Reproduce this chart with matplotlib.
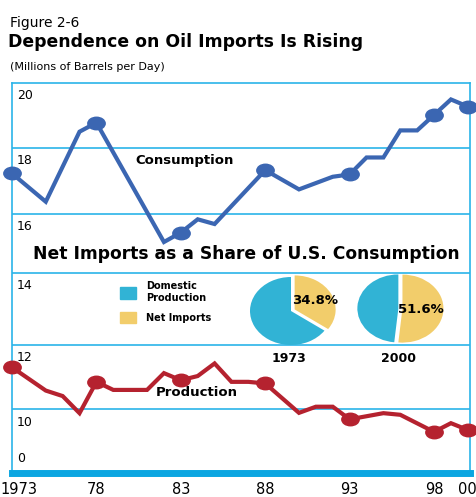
import numpy as np
import matplotlib
matplotlib.use('Agg')
import matplotlib.pyplot as plt
import matplotlib.transforms as mtransforms
from matplotlib.path import Path

# ---- data (millions of barrels per day) ----
cons_years = [1973, 1975, 1977, 1978, 1982, 1983, 1984, 1985, 1988, 1990,
              1992, 1993, 1994, 1995, 1996, 1997, 1998, 1999, 2000]
consumption = [17.22, 16.37, 18.49, 18.77, 15.05, 15.37, 15.82, 15.66, 17.32, 16.74,
               17.12, 17.19, 17.70, 17.70, 18.53, 18.53, 19.01, 19.49, 19.27]

prod_years = [1973, 1975, 1976, 1977, 1978, 1979, 1981, 1982, 1983, 1984, 1985, 1986,
              1987, 1988, 1990, 1991, 1992, 1993, 1995, 1996, 1998, 1999, 2000]
production = [11.30, 10.58, 10.41, 9.88, 10.85, 10.60, 10.60, 11.12, 10.90, 11.03, 11.42, 10.85,
              10.85, 10.80, 9.89, 10.08, 10.08, 9.69, 9.88, 9.83, 9.30, 9.57, 9.36]

marker_years = [1973, 1978, 1983, 1988, 1993, 1998, 2000]
tick_years = [1973, 1978, 1983, 1988, 1993, 1998, 2000]
tick_labels = ['1973', '78', '83', '88', '93', '98', '00']
y_ticks = [20, 18, 16, 14, 12, 10]
grid_vals = [10, 12, 14, 16, 18]

pie_years = ['1973', '2000']
net_imports = [34.8, 51.6]

# colours
BLUE = '#3b66b2'
RED = '#b5222f'
GRID = '#2ab4e9'
CYAN = '#31b3d5'
YELLOW = '#f2cd6b'

# broken value axis: 0..8.5 squeezed at the bottom
scale_vals = [0, 8.5, 10, 12, 14, 16, 18, 20]
scale_pos = [0, 15.3, 63.7, 128.3, 200, 259, 325.5, 390]


def fwd(v):
    return np.interp(v, scale_vals, scale_pos)


def inv(p):
    return np.interp(p, scale_pos, scale_vals)


W, H = 476, 497
fig = plt.figure(figsize=(W / 100, H / 100), dpi=100)


def fig_box(x0, y0, x1, y1):
    # pixel box (top-left origin) -> figure fraction rect
    return [x0 / W, 1 - y1 / H, (x1 - x0) / W, (y1 - y0) / H]


ax = fig.add_axes(fig_box(12, 83, 469.5, 473))
ax.set_yscale('function', functions=(fwd, inv))
ax.set_ylim(0, 20)
ax.set_xlim(1973, 2000.1)

for v in grid_vals:
    ax.axhline(v, color=GRID, lw=1.2, zorder=1)

for s in ['left', 'right', 'top']:
    ax.spines[s].set_color(GRID)
    ax.spines[s].set_linewidth(1.2)
ax.spines['bottom'].set_color('#0ba6e1')
ax.spines['bottom'].set_linewidth(5)

circ = Path.unit_circle()
ell = Path(circ.vertices * [1, 0.72], circ.codes)

cons_marks = [i for i, y in enumerate(cons_years) if y in marker_years]
prod_marks = [i for i, y in enumerate(prod_years) if y in marker_years]

ax.plot(cons_years, consumption, color=BLUE, lw=3, marker=ell, markersize=12.5,
        markevery=cons_marks, clip_on=False, zorder=3, solid_joinstyle='miter')
ax.plot(prod_years, production, color=RED, lw=3, marker=ell, markersize=12.5,
        markevery=prod_marks, clip_on=False, zorder=3, solid_joinstyle='miter')

ax.text(1980.3, 17.6, 'Consumption', fontsize=9.5, fontweight='bold', va='center', ha='left')
ax.text(1981.5, 10.52, 'Production', fontsize=9.5, fontweight='bold', va='center', ha='left')

# y labels sit inside the frame, under their gridline
for v in y_ticks:
    ax.annotate(str(v), xy=(0, v), xycoords=('axes fraction', 'data'),
                xytext=(3.6, -9.2), textcoords='offset points',
                ha='left', va='center', fontsize=9)
ax.annotate('0', xy=(0, 0), xycoords=('axes fraction', 'data'),
            xytext=(3.6, 10.8), textcoords='offset points',
            ha='left', va='center', fontsize=9)

ax.set_yticks([])
ax.set_xticks(tick_years, tick_labels, fontsize=10.5)
ax.tick_params(axis='x', length=0, pad=6.5)
first = ax.get_xticklabels()[0]
first.set_ha('left')
first.set_transform(first.get_transform() +
                    mtransforms.ScaledTranslation(-12 / 100, 0, fig.dpi_scale_trans))
last = ax.get_xticklabels()[-1]
last.set_ha('right')
last.set_transform(last.get_transform() +
                   mtransforms.ScaledTranslation(9 / 100, 0, fig.dpi_scale_trans))

# titles
fig.text(10 / W, 1 - 23 / H, 'Figure 2-6', fontsize=10, va='center', ha='left')
fig.text(8 / W, 1 - 42 / H, 'Dependence on Oil Imports Is Rising', fontsize=12.4,
         fontweight='bold', va='center', ha='left')
fig.text(10 / W, 1 - 67 / H, '(Millions of Barrels per Day)', fontsize=8,
         va='center', ha='left')

# pie inset
fig.text(246 / W, 1 - 254 / H, 'Net Imports as a Share of U.S. Consumption',
         fontsize=12.3, fontweight='bold', va='center', ha='center')

pie_centers = [(291, 311), (400, 308.5)]
explodes = [(0.1, 0.0), (0.06, 0.04)]
pct_dist = [0.55, 0.45]
rx, ry = 41, 34
lim = 1.3
for name, share, (cx, cy), ex, pd_ in zip(pie_years, net_imports, pie_centers, explodes, pct_dist):
    pax = fig.add_axes(fig_box(cx - lim * rx, cy - lim * ry, cx + lim * rx, cy + lim * ry))
    wedges, texts, autotexts = pax.pie([share, 100 - share], colors=[YELLOW, CYAN],
                                       startangle=90, counterclock=False, explode=ex,
                                       autopct='%.1f%%', pctdistance=pd_,
                                       textprops=dict(fontsize=9.5, fontweight='bold'))
    autotexts[1].set_visible(False)
    pax.set_aspect('auto')
    pax.set_xlim(-lim, lim)
    pax.set_ylim(-lim, lim)
    pax.axis('off')
    fig.text((cx - 2) / W, 1 - 358 / H, name, fontsize=9, fontweight='bold',
             ha='center', va='center')

# legend for the pies
lax = fig.add_axes(fig_box(110, 280, 240, 330))
lax.axis('off')
h1 = plt.Rectangle((0, 0), 1, 1, color=CYAN)
h2 = plt.Rectangle((0, 0), 1, 1, color=YELLOW)
lax.legend([h1, h2], ['Domestic\nProduction', 'Net Imports'], loc='upper left',
           bbox_to_anchor=(0.05, 1.05), frameon=False, prop=dict(size=7, weight='bold'),
           handlelength=1.6, handleheight=1.4, labelspacing=0.9, handletextpad=1.0,
           borderaxespad=0)

fig.savefig('out.png', dpi=100)
